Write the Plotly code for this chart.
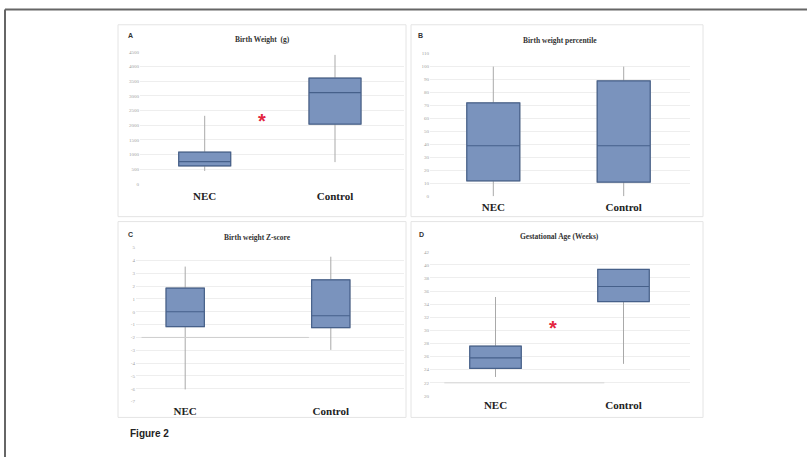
import plotly.graph_objects as go

W, H = 807, 460

groups = ["NEC", "Control"]
group_pos = [0, 1]

# Panel A: Birth Weight (g)
bw_ticks = [0, 500, 1000, 1500, 2000, 2500, 3000, 3500, 4000, 4500]
bw_lower = [440, 740]
bw_q1 = [610, 2040]
bw_median = [760, 3110]
bw_q3 = [1080, 3610]
bw_upper = [2320, 4400]
bw_star = (0.44, 2235)

# Panel B: Birth weight percentile
pct_ticks = [0, 10, 20, 30, 40, 50, 60, 70, 80, 90, 100, 110]
pct_lower = [0, 0]
pct_q1 = [12, 11]
pct_median = [39, 39]
pct_q3 = [72, 89]
pct_upper = [100, 100]

# Panel C: Birth weight Z-score
z_ticks = [5, 4, 3, 2, 1, 0, -1, -2, -3, -4, -5, -6, -7]
z_lower = [-6.05, -2.97]
z_q1 = [-1.16, -1.24]
z_median = [0.0, -0.31]
z_q3 = [1.85, 2.49]
z_upper = [3.52, 4.29]

# Panel D: Gestational Age (Weeks)
ga_ticks = [20, 22, 24, 26, 28, 30, 32, 34, 36, 38, 40, 42]
ga_lower = [22.9, 24.9]
ga_q1 = [24.2, 34.4]
ga_median = [25.8, 36.7]
ga_q3 = [27.6, 39.3]
ga_upper = [35.1, 39.3]
ga_star = (0.45, 30.9)

titles = ["Birth Weight  (g)", "Birth weight percentile", "Birth weight Z-score", "Gestational Age (Weeks)"]
letters = ["A", "B", "C", "D"]

# layout geometry (pixels)
panels = [
    dict(xl=140, xr=404, c0=204.7, c1=335.0, bw=52, yt=50.5, yb=183.8, lab_shift=4,
         rect=(118, 23, 406, 217), title_xy=(262, 38), letter_xy=(130.5, 34)),
    dict(xl=430, xr=690, c0=493.3, c1=623.7, bw=53, yt=52.2, yb=196.5, lab_shift=3,
         rect=(411, 23, 703, 217), title_xy=(560, 39), letter_xy=(420, 33.5)),
    dict(xl=136, xr=404, c0=185.2, c1=330.8, bw=38.3, yt=248.3, yb=404.0, lab_shift=1,
         rect=(118, 222, 406, 420), title_xy=(257, 238), letter_xy=(130.5, 235)),
    dict(xl=430, xr=690, c0=495.5, c1=623.5, bw=51.5, yt=252.5, yb=398.3, lab_shift=1,
         rect=(411, 222, 703, 420), title_xy=(559, 237), letter_xy=(421.5, 235)),
]
data = [
    (bw_ticks, bw_lower, bw_q1, bw_median, bw_q3, bw_upper),
    (pct_ticks, pct_lower, pct_q1, pct_median, pct_q3, pct_upper),
    (z_ticks, z_lower, z_q1, z_median, z_q3, z_upper),
    (ga_ticks, ga_lower, ga_q1, ga_median, ga_q3, ga_upper),
]

FILL = "#7a93bd"
EDGE = "#46608a"
WHISK = "#a9a9a9"

fig = go.Figure()
layout = dict(width=W, height=H, margin=dict(l=0, r=0, t=0, b=0),
              paper_bgcolor="white", plot_bgcolor="rgba(0,0,0,0)",
              showlegend=False, boxmode="overlay")
shapes = []
annotations = []

def px(x):
    return x / W

def py(y):
    return 1 - y / H

for i, (p, d) in enumerate(zip(panels, data)):
    ticks, lo, q1, med, q3, up = d
    n = "" if i == 0 else str(i + 1)
    xa, ya = "x" + n, "y" + n
    unit = p["c1"] - p["c0"]
    xr = [(p["xl"] - p["c0"]) / unit, (p["xr"] - p["c0"]) / unit]
    width = p["bw"] / unit
    # whiskers (light gray)
    fig.add_trace(go.Box(x=group_pos, q1=q1, median=med, q3=q3, lowerfence=lo, upperfence=up,
                         width=width, whiskerwidth=0, fillcolor=FILL,
                         line=dict(color=WHISK, width=1), xaxis=xa, yaxis=ya,
                         hoverinfo="skip", boxpoints=False))
    # box body
    fig.add_trace(go.Box(x=group_pos, q1=q1, median=med, q3=q3, lowerfence=q1, upperfence=q3,
                         width=width, whiskerwidth=0, fillcolor=FILL,
                         line=dict(color=EDGE, width=1.2), xaxis=xa, yaxis=ya,
                         hoverinfo="skip", boxpoints=False))
    layout["xaxis" + n] = dict(domain=[px(p["xl"]), px(p["xr"])], range=xr, anchor=ya,
                               tickvals=group_pos, ticktext=["<b>%s</b>" % g for g in groups],
                               tickfont=dict(family="Liberation Serif", size=11, color="#222"),
                               showgrid=False, zeroline=False, showline=False, ticks="",
                               ticklabelstandoff=p["lab_shift"], fixedrange=True)
    layout["yaxis" + n] = dict(domain=[py(p["yb"]), py(p["yt"])], range=[min(ticks), max(ticks)],
                               anchor=xa, tickvals=ticks, ticktext=[str(t) for t in ticks],
                               tickfont=dict(family="Liberation Serif", size=5, color="#a0a0a0"),
                               showgrid=True, gridcolor="#eeeeee", gridwidth=1,
                               zeroline=False, showline=False, ticks="", fixedrange=True)
    x0, y0, x1, y1 = p["rect"]
    shapes.append(dict(type="rect", xref="paper", yref="paper", x0=px(x0), x1=px(x1),
                       y0=py(y1), y1=py(y0), line=dict(color="#e4e4e4", width=1), layer="below"))
    annotations.append(dict(text="<b>%s</b>" % titles[i], xref="paper", yref="paper",
                            x=px(p["title_xy"][0]), y=py(p["title_xy"][1]), showarrow=False,
                            xanchor="center", yanchor="middle",
                            font=dict(family="Liberation Serif", size=7.5, color="#333")))
    annotations.append(dict(text="<b>%s</b>" % letters[i], xref="paper", yref="paper",
                            x=px(p["letter_xy"][0]), y=py(p["letter_xy"][1]), showarrow=False,
                            xanchor="center", yanchor="middle",
                            font=dict(family="Liberation Sans", size=7, color="#333")))

# significance asterisks
for (sx, sy), xa, ya in [(bw_star, "x", "y"), (ga_star, "x4", "y4")]:
    annotations.append(dict(text="<b>*</b>", x=sx, y=sy, xref=xa, yref=ya, showarrow=False,
                            xanchor="center", yanchor="middle", yshift=-3,
                            font=dict(family="Liberation Sans", size=20, color="#e3263f")))

# reference lines (slightly darker gridlines)
shapes.append(dict(type="line", xref="x3", yref="y3", x0=-0.3, x1=0.85, y0=-2, y1=-2,
                   line=dict(color="#cfcfcf", width=1)))
shapes.append(dict(type="line", xref="x4", yref="y4", x0=-0.4, x1=0.85, y0=22, y1=22,
                   line=dict(color="#d6d6d6", width=1)))

# outer frame
shapes.append(dict(type="line", xref="paper", yref="paper", x0=px(5), x1=1, y0=py(7.5), y1=py(7.5),
                   line=dict(color="#666666", width=2)))
shapes.append(dict(type="line", xref="paper", yref="paper", x0=px(5), x1=px(5), y0=0, y1=py(7.5),
                   line=dict(color="#666666", width=2)))

annotations.append(dict(text="<b>Figure 2</b>", xref="paper", yref="paper", x=px(128), y=py(436),
                        xanchor="left", yanchor="middle", showarrow=False,
                        font=dict(family="Liberation Sans", size=10, color="#222")))

layout["shapes"] = shapes
layout["annotations"] = annotations
fig.update_layout(**layout)
fig.write_html("out.html", config={"displayModeBar": False},
               post_script="document.body.style.margin='0';")
